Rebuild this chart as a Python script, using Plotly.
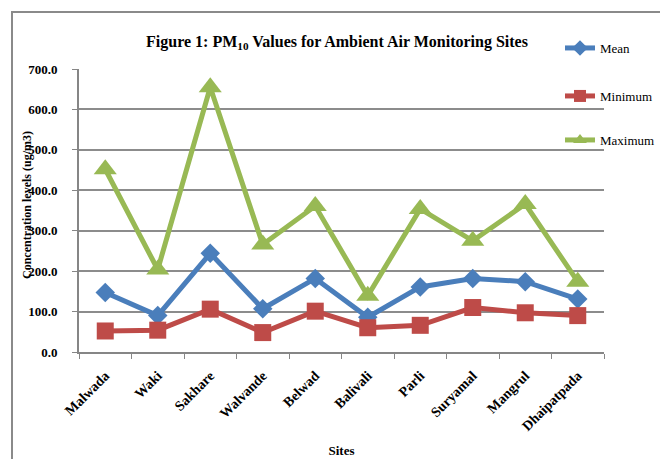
import plotly.graph_objects as go

sites = ["Malwada", "Waki", "Sakhare", "Walvande", "Belwad", "Balivali",
         "Parli", "Suryamal", "Mangrul", "Dhaipatpada"]
mean_vals = [147, 90, 244, 107, 182, 86, 161, 182, 174, 131]
min_vals = [52, 54, 106, 48, 101, 60, 66, 110, 97, 90]
max_vals = [452, 204, 655, 266, 361, 139, 354, 275, 366, 174]
y_ticks = [0, 100, 200, 300, 400, 500, 600, 700]

W, H = 660, 459
L, T = 79, 69
R = W - 604
B = H - 352
pw, ph = W - L - R, H - T - B

font_family = "Liberation Serif"

fig = go.Figure()
fig.add_trace(go.Scatter(x=sites, y=mean_vals, name="Mean", mode="lines+markers",
                         line=dict(color="#4a7ebb", width=5),
                         marker=dict(symbol="diamond", size=15, color="#4a7ebb"),
                         legend="legend"))
fig.add_trace(go.Scatter(x=sites, y=min_vals, name="Minimum", mode="lines+markers",
                         line=dict(color="#be4b48", width=5),
                         marker=dict(symbol="square", size=17, color="#be4b48"),
                         legend="legend2"))
fig.add_trace(go.Scatter(x=sites, y=max_vals, name="Maximum", mode="lines+markers",
                         line=dict(color="#98b954", width=5),
                         marker=dict(symbol="triangle-up", size=20, color="#98b954"),
                         legend="legend3"))

def px_x(p):
    return (p - L) / pw

def px_y(p):
    return 1 - (p - T) / ph

leg_common = dict(font=dict(family=font_family, size=13, color="#000"),
                  bgcolor="rgba(0,0,0,0)", xanchor="left", yanchor="middle",
                  itemwidth=30, itemsizing="constant")
fig.update_layout(
    legend=dict(x=px_x(560), y=px_y(48), **leg_common),
    legend2=dict(x=px_x(560), y=px_y(96), **leg_common),
    legend3=dict(x=px_x(560), y=px_y(140), **leg_common),
)

fig.update_layout(
    width=W, height=H,
    margin=dict(l=L, r=R, t=T, b=B, autoexpand=False),
    paper_bgcolor="white", plot_bgcolor="white",
    showlegend=True,
    title=dict(text="Figure 1: PM<sub>10</sub> Values for Ambient Air Monitoring Sites",
               x=px_x(337), xref="paper", xanchor="center",
               y=1 - 41 / H, yanchor="middle", automargin=False,
               font=dict(family=font_family, size=16, color="#000", weight="bold")),
    xaxis=dict(
        type="category", showline=True, linecolor="#868686", linewidth=2,
        ticks="outside", ticklen=5, tickcolor="#868686", tickson="boundaries",
        tickangle=-45, showgrid=False, automargin=False, ticklabelstandoff=8,
        tickfont=dict(family=font_family, size=14, color="#000", weight="bold"),
        title=dict(text="Sites", standoff=13,
                   font=dict(family=font_family, size=13, color="#000", weight="bold")),
        range=[-0.5, 9.5],
    ),
    yaxis=dict(
        range=[0, 700], tickvals=y_ticks, ticktext=[f"{v:.1f}" for v in y_ticks],
        showline=True, linecolor="#868686", linewidth=2, automargin=False,
        ticks="outside", ticklen=5, tickcolor="#868686", ticklabelstandoff=12,
        showgrid=True, gridcolor="#8c8c8c", gridwidth=1.5, zeroline=False,
        tickfont=dict(family=font_family, size=13, color="#000", weight="bold"),
    ),
)

fig.add_annotation(text="Concentration levels (ug/m3)", textangle=-90,
                   xref="paper", yref="paper", x=px_x(27), y=px_y(205),
                   xanchor="center", yanchor="middle", showarrow=False,
                   font=dict(family=font_family, size=12, color="#000", weight="bold"))

fig.add_shape(type="rect", xref="paper", yref="paper",
              x0=px_x(12), x1=px_x(680), y0=px_y(480), y1=px_y(12),
              line=dict(color="#8a8a8a", width=2), layer="below")

fig.write_html(
    "out.html",
    config={"displayModeBar": False},
    post_script="document.documentElement.style.overflow='hidden';"
                "document.body.style.margin='0';document.body.style.overflow='hidden';",
)
